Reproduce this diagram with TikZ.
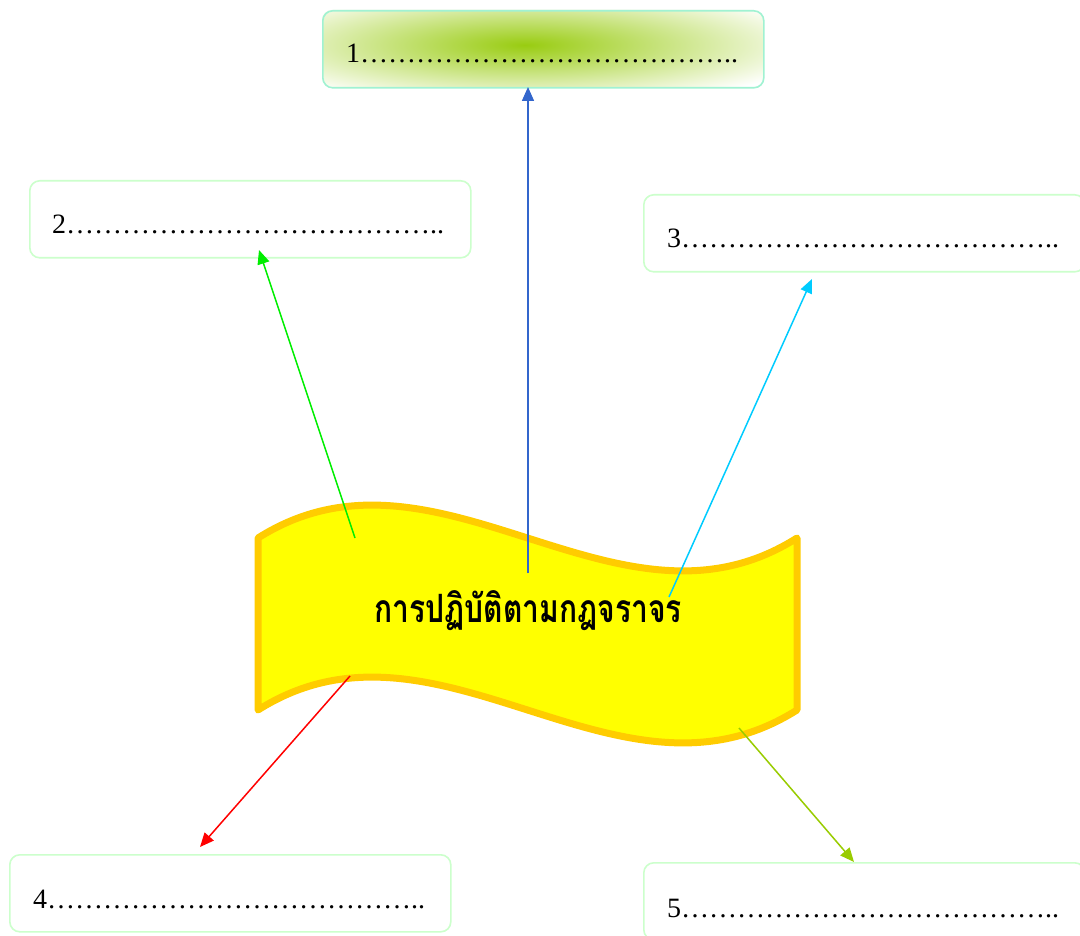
\documentclass[tikz,border=0pt]{standalone}
\usepackage{fontspec}
\setmainfont{Liberation Serif}
\newfontfamily\thaifont[Script=Thai]{Loma}
\usetikzlibrary{arrows.meta}
\definecolor{boxgreen}{HTML}{CCFFCC}
\definecolor{boxaqua}{HTML}{A0F2D2}
\definecolor{glow}{HTML}{99CC11}
\definecolor{bannerfill}{HTML}{FFFF00}
\definecolor{bannerline}{HTML}{FFCC00}
\definecolor{cblue}{HTML}{3366CC}
\definecolor{cgreen}{HTML}{00EE00}
\definecolor{ccyan}{HTML}{00CCFF}
\definecolor{cred}{HTML}{FF0000}
\definecolor{colive}{HTML}{99CC00}
\tikzset{
  blank/.style={draw=boxgreen, line width=1.6pt, rounded corners=10pt, rectangle,
    minimum width=441pt, minimum height=77pt, inner sep=0pt, anchor=north west},
  dotline/.style={anchor=base west, inner sep=0pt, font=\fontsize{28}{30}\selectfont},
  conn/.style={line width=1.5pt, -{Triangle[length=14pt,width=12pt]}},
}
\newcommand{\fourell}{…………}
\newcommand{\dotsrow}[1]{#1\fourell\fourell\fourell…..}
\begin{document}
\begin{tikzpicture}[x=1pt,y=-1pt]
\useasboundingbox (0,0) rectangle (1080,936);
\clip (0,0) rectangle (1080,936);
\fill[white] (0,0) rectangle (1080,936);
% box 1 with glow
\begin{scope}
\clip[rounded corners=10pt] (322,10) rectangle (763,87);
\shade[inner color=glow, outer color=white] (525,45) ellipse [x radius=300, y radius=60];
\end{scope}
\node[blank, draw=boxaqua] (b1) at (322,10) {};
\node[blank] (b2) at (29,180) {};
\node[blank] (b3) at (643,194) {};
\node[blank] (b4) at (9,854) {};
\node[blank] (b5) at (643,862) {};
\node[dotline] (t1) at (346,63) {\dotsrow{1}};
\node[dotline] (t2) at (52,234) {\dotsrow{2}};
\node[dotline] (t3) at (667,248) {\dotsrow{3}};
\node[dotline] (t4) at (33,908) {\dotsrow{4}};
\node[dotline] (t5) at (667,917) {\dotsrow{5}};
% banner
\draw[fill=bannerfill, draw=bannerline, line width=7pt, line join=round]
  (258,538) .. controls (438,424) and (617,652) .. (797,538)
  -- (797,710) .. controls (617,824) and (438,596) .. (258,710) -- cycle;
\node[font=\thaifont\bfseries\fontsize{30}{34}\selectfont, anchor=base, inner sep=0pt] (title) at (528,622) {\scalebox{1}[1.3]{การปฏิบัติตามกฎจราจร}};
% connector endpoints
\coordinate (s1) at (528,573);
\coordinate (e1) at (528,87);
\coordinate (s2) at (355,538);
\coordinate (e2) at (259,250);
\coordinate (s3) at (669,597);
\coordinate (e3) at (812,279);
\coordinate (s4) at (350,676);
\coordinate (e4) at (200,847);
\coordinate (s5) at (739,728);
\coordinate (e5) at (854,862);
\draw[conn, cblue] (s1) -- (e1);
\draw[conn, cgreen] (s2) -- (e2);
\draw[conn, ccyan] (s3) -- (e3);
\draw[conn, cred] (s4) -- (e4);
\draw[conn, colive] (s5) -- (e5);
\end{tikzpicture}
\end{document}
